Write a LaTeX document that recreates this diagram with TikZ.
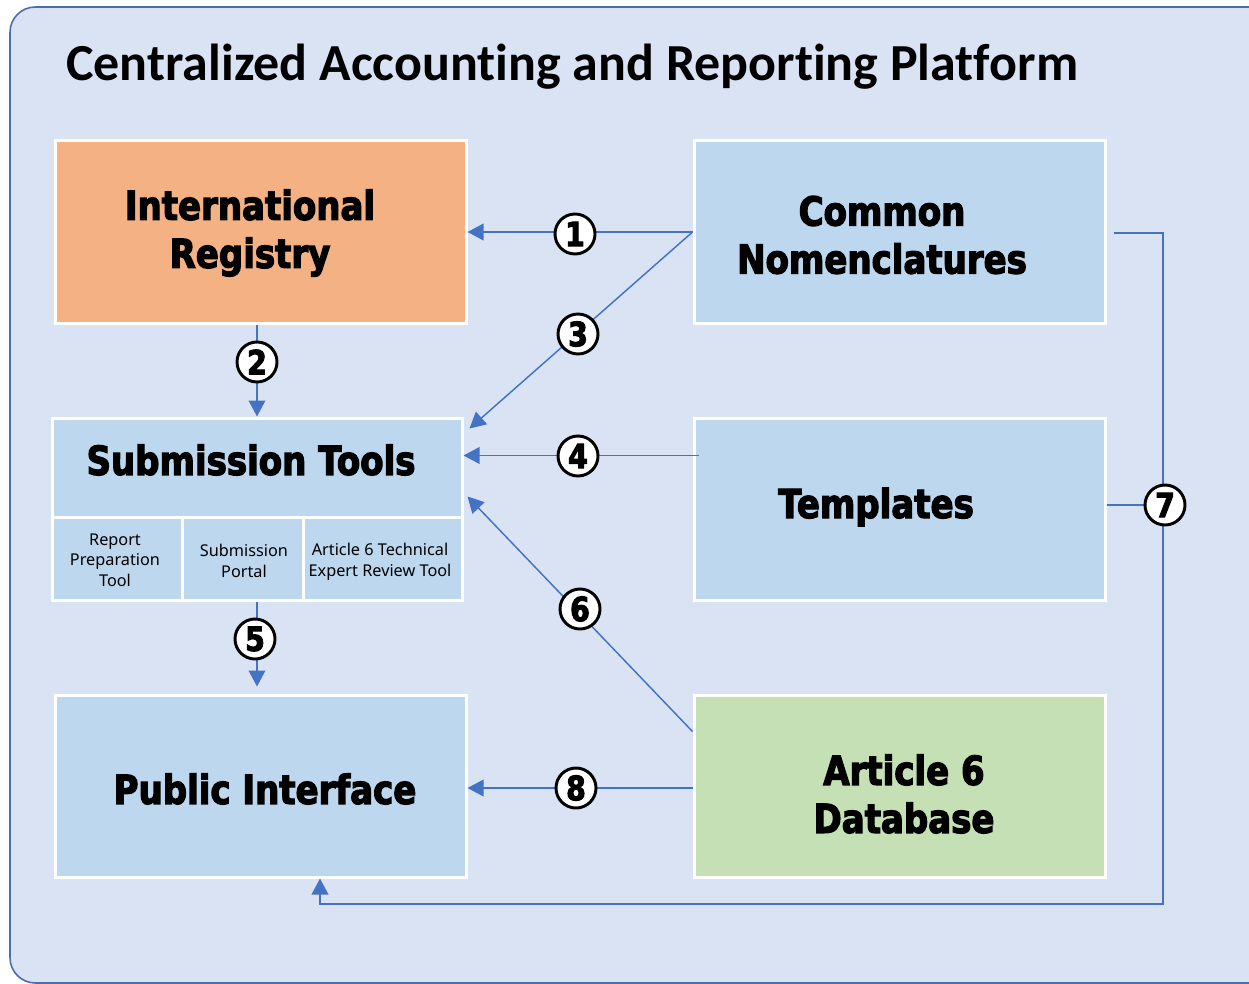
\documentclass[tikz,border=0pt]{standalone}
\usepackage{fontspec}
\setmainfont{Carlito}[Ligatures=NoCommon]
\newfontfamily\heavy{DejaVu Sans}[FakeStretch=0.85, BoldFeatures={FakeBold=3}]
\newfontfamily\uifont{Noto Sans}
\usetikzlibrary{arrows.meta,calc}
\definecolor{bgfill}{HTML}{DAE3F3}
\definecolor{bgline}{HTML}{4A6EB0}
\definecolor{orangebox}{HTML}{F4B183}
\definecolor{bluebox}{HTML}{BDD7EE}
\definecolor{greenbox}{HTML}{C5E0B4}
\definecolor{lineblue}{HTML}{4472C4}
\tikzset{
  box/.style={draw=white, line width=2.25pt, inner sep=0pt, minimum width=#1},
  bigtxt/.style={font=\heavy\bfseries\fontsize{30}{36}\selectfont, align=center},
  smalltxt/.style={font=\uifont\fontsize{12.2}{15.5}\selectfont, align=center},
  numc/.style={circle, draw=black, line width=2.2pt, fill=white, minimum size=30pt, inner sep=0pt, font=\heavy\bfseries\fontsize{25}{25}\selectfont},
  conn/.style={draw=lineblue, line width=1.1pt, -{Triangle[length=12pt,width=12.5pt]}},
  plain/.style={draw=lineblue, line width=1.1pt}
}
\begin{document}
\begin{tikzpicture}[x=0.75pt,y=-0.75pt]
\useasboundingbox (0,0) rectangle (1249,984);
\path[fill=bgfill, draw=bgline, line width=1.2pt, rounded corners=19pt] (10,7) rectangle (1300,983);
\node[anchor=base west, inner sep=0pt, font=\bfseries\fontsize{39}{44}\selectfont] (title) at (66,81) {Centralized Accounting and Reporting Platform};

% boxes
\node[box=411*0.75pt, minimum height=182*0.75pt, fill=orangebox] (ir) at (260.5,232) {};
\node[box=411*0.75pt, minimum height=182*0.75pt, fill=bluebox] (cn) at (899.5,232) {};
\node[box=410*0.75pt, minimum height=99*0.75pt, fill=bluebox] (st) at (257,467.5) {};
\node[box=130*0.75pt, minimum height=83*0.75pt, fill=bluebox] (rp) at (117,558.5) {};
\node[box=121*0.75pt, minimum height=83*0.75pt, fill=bluebox] (sp) at (242.5,558.5) {};
\node[box=159*0.75pt, minimum height=83*0.75pt, fill=bluebox] (at) at (382.5,558.5) {};
\node[box=411*0.75pt, minimum height=182*0.75pt, fill=bluebox] (tp) at (899.5,509) {};
\node[box=411*0.75pt, minimum height=182*0.75pt, fill=bluebox] (pi) at (260.5,786) {};
\node[box=411*0.75pt, minimum height=182*0.75pt, fill=greenbox] (a6) at (899.5,786) {};

% labels
\node[bigtxt] (irl) at (250,233) {International\\Registry};
\node[bigtxt] (cnl) at (882,235) {Common\\Nomenclatures};
\node[bigtxt] (stl) at (251,460) {Submission Tools};
\node[bigtxt] (tpl) at (876,507) {Templates};
\node[bigtxt] (pil) at (265,789) {Public Interface};
\node[bigtxt] (a6l) at (904,794) {Article 6\\Database};
\node[smalltxt] (rpl) at (115,560) {Report\\Preparation\\Tool};
\node[smalltxt] (spl) at (244,561) {Submission\\Portal};
\node[smalltxt] (atl) at (380,562) {Article 6 Technical\\Expert Review Tool};

% connectors
\coordinate (c7) at (1163,505);
\coordinate (c8) at (320,904);
\draw[conn] (cn.west) -- (ir.east);
\draw[conn] (cn.west) -- ($(st.north east)+(6,12)$);
\draw[conn] (ir.south -| st.north) -- (st.north);
\draw[conn] ($(tp.north west)+(6,39)$) -- ($(st.north east)+(0,39)$);
\draw[conn] ($(a6.north west)+(0,38)$) -- ($(st.south east)+(4,-22)$);
\draw[conn] (st.south |- sp.south) -- ($(pi.north -| st.south)+(0,-7)$);
\draw[conn] ($(a6.west)+(0,2)$) -- ($(pi.east)+(0,2)$);
\draw[conn] ($(cn.east)+(7,1)$) -| (c7) |- (c8) -- (pi.south -| c8);
\draw[plain] (tp.east |- c7) -- (c7);

% numbers
\node[numc] (n1) at (575,234) {1};
\node[numc] (n2) at (257,362) {2};
\node[numc] (n3) at (578,334) {3};
\node[numc] (n4) at (578,456) {4};
\node[numc] (n5) at (255,639) {5};
\node[numc] (n6) at (580,609) {6};
\node[numc] (n7) at (1165,505) {7};
\node[numc] (n8) at (576,788) {8};
\end{tikzpicture}
\end{document}
